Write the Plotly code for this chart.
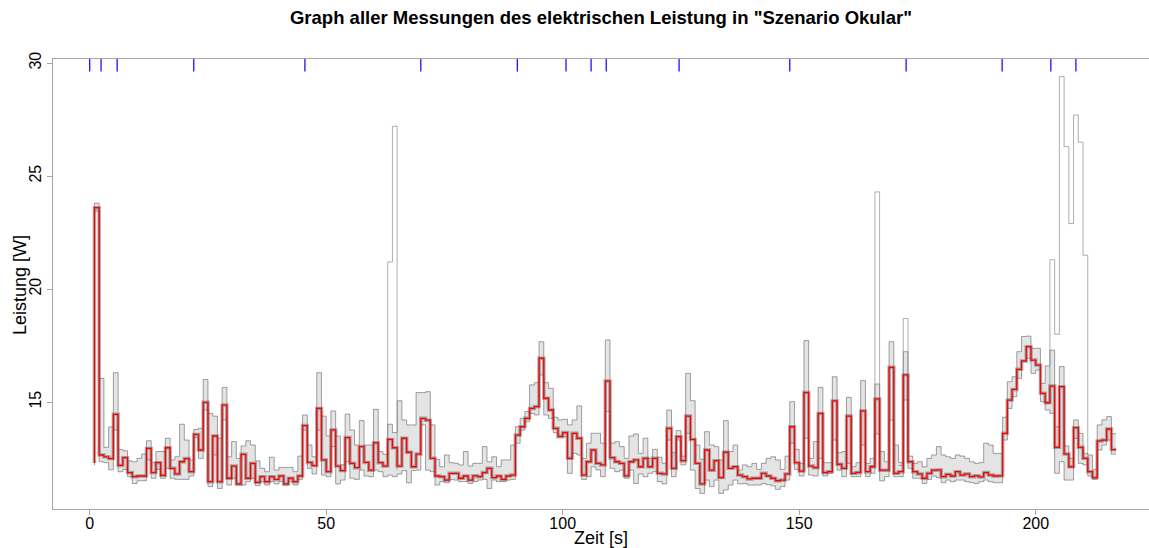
import plotly.graph_objects as go

# ---------------- data ----------------
zeit = list(range(1, 217))  # s, 1-s bins

median_w = [
    23.6, 12.66, 12.58, 12.5, 14.46, 12.2, 12.54, 11.88, 11.7, 11.73,
    11.73, 12.95, 11.88, 12.32, 11.76, 12.98, 12.07, 11.82, 12.36, 12.5,
    11.92, 13.57, 12.88, 14.99, 11.48, 13.5, 11.48, 14.87, 11.63, 12.17,
    11.38, 12.69, 11.63, 12.29, 11.45, 11.7, 11.48, 11.7, 11.58, 11.73,
    11.38, 11.63, 11.48, 11.73, 13.96, 12.33, 12.19, 14.72, 12.44, 11.92,
    13.77, 12.17, 11.97, 13.43, 12.29, 12.1, 13.03, 12.33, 11.99, 13.2,
    12.32, 12.17, 13.35, 12.98, 12.17, 13.4, 12.78, 12.14, 12.7, 14.28,
    14.2, 12.51, 11.73, 11.7, 11.55, 11.85, 11.85, 11.63, 11.73, 11.55,
    11.74, 11.7, 11.88, 12.07, 11.66, 11.73, 11.58, 11.73, 11.77, 13.54,
    13.91, 14.28, 14.72, 14.8, 16.94, 15.17, 14.65, 13.84, 13.47, 13.65,
    12.51, 13.62, 13.4, 11.77, 12.36, 12.88, 12.29, 12.22, 15.93, 12.54,
    12.36, 12.29, 11.74, 12.36, 12.44, 12.14, 12.51, 12.14, 12.51, 11.85,
    11.82, 13.84, 12.07, 13.47, 12.41, 14.38, 13.35, 12.29, 11.38, 12.88,
    11.99, 12.41, 11.66, 12.78, 12.07, 12.14, 11.77, 11.7, 11.6, 11.63,
    11.63, 11.85, 11.73, 11.63, 11.52, 11.55, 11.82, 13.91, 12.32, 11.95,
    15.42, 12.17, 12.1, 14.5, 11.88, 11.92, 15.05, 12.25, 12.07, 14.38,
    11.85, 11.89, 14.61, 11.92, 12.14, 15.14, 11.99, 11.99, 16.54, 11.85,
    11.92, 16.2, 12.36, 11.92, 11.82, 11.63, 11.85, 11.99, 12.0, 11.7,
    11.8, 11.73, 11.92, 11.77, 11.82, 11.7, 11.74, 11.69, 11.88, 11.77,
    11.73, 11.74, 13.62, 15.09, 15.56, 16.45, 16.82, 17.45, 16.86, 16.64,
    15.39, 14.97, 15.71, 13.0, 15.68, 12.7, 12.14, 13.87, 13.0, 12.51,
    11.92, 11.66, 13.28, 13.32, 13.81, 12.9,
]

maximum_w = [
    23.8, 16.05, 13.0, 13.9, 16.3, 12.9, 12.85, 12.4, 12.36, 12.51,
    12.7, 13.29, 12.32, 12.81, 12.81, 13.4, 12.44, 12.58, 14.02, 13.32,
    12.44, 13.79, 13.84, 16.0, 14.5, 14.38, 13.4, 15.65, 12.58, 13.25,
    12.51, 13.06, 13.29, 13.1, 12.4, 12.07, 11.92, 12.56, 11.99, 12.11,
    12.11, 12.11, 11.92, 12.61, 14.43, 13.1, 12.58, 16.3, 14.38, 13.5,
    14.61, 13.5, 12.22, 14.47, 13.76, 13.1, 14.18, 13.1, 13.1, 14.68,
    12.81, 12.69, 14.02, 13.65, 15.06, 14.21, 13.99, 13.99, 15.42, 15.42,
    15.46, 13.99, 12.47, 12.14, 12.66, 12.32, 12.29, 12.22, 12.81, 12.17,
    12.29, 12.29, 13.03, 12.36, 12.58, 12.14, 12.44, 12.44, 13.1, 13.91,
    14.28, 14.58, 15.76, 15.86, 17.67, 15.86, 15.61, 14.33, 14.21, 14.24,
    13.99, 14.21, 14.83, 12.51, 13.18, 13.62, 13.62, 13.18, 17.75, 13.18,
    13.25, 13.03, 12.51, 13.5, 13.59, 12.73, 13.4, 12.51, 12.91, 12.56,
    12.29, 14.65, 12.76, 13.74, 12.61, 16.27, 15.06, 13.1, 12.47, 13.69,
    13.1, 13.03, 12.44, 14.18, 12.81, 13.1, 11.99, 12.22, 12.14, 12.29,
    12.02, 12.29, 12.51, 12.58, 12.44, 12.02, 12.61, 15.02, 12.91, 12.29,
    17.72, 12.51, 13.25, 15.65, 12.32, 12.32, 16.12, 12.76, 12.81, 15.21,
    12.14, 12.32, 15.95, 12.29, 12.51, 15.8, 12.81, 12.36, 17.67, 13.1,
    12.32, 17.23, 12.61, 12.29, 12.36, 12.14, 12.51, 12.66, 13.03, 12.66,
    12.58, 12.51, 12.66, 12.61, 12.51, 12.36, 12.29, 12.32, 13.18, 13.1,
    12.73, 12.73, 14.33, 15.9, 16.12, 17.23, 17.9, 17.92, 17.38, 17.38,
    15.83, 16.6, 17.3, 13.91, 16.57, 13.06, 12.51, 14.21, 13.62, 12.73,
    12.66, 12.02, 13.99, 14.21, 14.36, 13.6,
]

minimum_w = [
    23.45, 12.36, 12.32, 12.0, 13.76, 11.92, 12.02, 11.7, 11.4, 11.52,
    11.52, 12.44, 11.63, 12.02, 11.63, 12.07, 11.63, 11.58, 11.58, 11.58,
    11.73, 13.44, 12.51, 14.65, 11.26, 12.66, 11.18, 14.21, 11.33, 11.63,
    11.33, 11.33, 11.48, 11.63, 11.3, 11.48, 11.33, 11.48, 11.38, 11.48,
    11.33, 11.48, 11.33, 11.58, 13.76, 12.07, 11.82, 13.76, 11.77, 11.7,
    13.03, 11.38, 11.55, 12.36, 11.63, 11.58, 11.99, 11.73, 11.7, 11.99,
    11.92, 11.7, 11.77, 11.7, 11.82, 11.97, 11.43, 11.97, 11.99, 13.99,
    11.99, 11.92, 11.33, 11.48, 11.43, 11.58, 11.55, 11.48, 11.48, 11.4,
    11.48, 11.55, 11.58, 11.18, 11.55, 11.48, 11.48, 11.55, 11.58, 13.18,
    13.76, 14.13, 14.5, 14.43, 16.2, 14.43, 14.28, 13.65, 13.54, 13.47,
    11.85, 12.73, 12.66, 11.58, 11.7, 12.14, 12.0, 11.7, 14.58, 12.07,
    11.92, 11.99, 11.63, 11.99, 11.4, 11.82, 11.7, 11.85, 11.92, 11.48,
    11.38, 13.32, 11.7, 13.32, 12.22, 13.62, 11.99, 11.18, 10.96, 11.55,
    11.26, 11.55, 10.96, 11.11, 11.33, 11.55, 11.38, 11.4, 11.33, 11.33,
    11.33, 11.4, 11.35, 11.29, 11.14, 11.26, 11.55, 13.18, 12.02, 11.73,
    13.4, 11.77, 11.73, 12.51, 11.73, 11.85, 13.32, 11.99, 11.7, 12.29,
    11.7, 11.7, 13.1, 11.7, 11.85, 13.59, 11.52, 11.7, 14.2, 11.7,
    11.7, 15.09, 12.07, 11.63, 11.63, 11.4, 11.58, 11.73, 11.65, 11.43,
    11.55, 11.48, 11.55, 11.55, 11.48, 11.43, 11.4, 11.48, 11.55, 11.48,
    11.43, 11.43, 13.32, 14.72, 15.24, 16.05, 16.79, 16.94, 16.27, 16.42,
    15.02, 14.65, 14.5, 11.85, 12.36, 11.55, 11.55, 13.4, 12.29, 12.22,
    11.73, 11.58, 12.88, 13.1, 13.32, 12.7,
]

# value of all runs just before the first spike (start of the record)
startwert = {"median": 12.3, "maximum": 12.45, "minimum": 12.2}

# single measurement run with outliers (only its deviating stretches)
ausreisser_zeit = [62, 63, 64, 65, None, 165, 166, 167, None,
                   171, 172, 173, None,
                   202, 203, 204, 205, 206, 207, 208, 209, 210, 211]
ausreisser_wert = [12.2, 21.2, 27.2, 12.0, None, 12.2, 24.3, 12.0, None,
                   12.2, 18.7, 12.3, None,
                   15.0, 21.3, 18.0, 29.4, 26.3, 22.9, 27.7, 26.5, 21.5, 12.4]

# event markers (blue rug at the top)
ereignis_zeit = [0, 2.4, 5.8, 22.0, 45.5, 70.0, 90.4, 100.7, 106.0, 109.2,
                 124.6, 148.0, 172.6, 192.9, 203.2, 208.5]

x_ticks = [0, 50, 100, 150, 200]
y_ticks = [15, 20, 25, 30]

# ---------------- figure ----------------
FONT = "Liberation Sans, Arial, Helvetica, sans-serif"


def stufen(werte, start):
    xs = [zeit[0]] + zeit + [zeit[-1] + 1]
    ys = [start] + werte + [werte[-1]]
    return xs, ys


fig = go.Figure()

xs, ys_min = stufen(minimum_w, startwert["minimum"])
_, ys_max = stufen(maximum_w, startwert["maximum"])
_, ys_med = stufen(median_w, startwert["median"])

fig.add_trace(go.Scatter(x=xs, y=ys_min, mode="lines", line_shape="hv",
                         line=dict(color="rgba(100,100,100,0.6)", width=1),
                         hoverinfo="skip", showlegend=False))
fig.add_trace(go.Scatter(x=xs, y=ys_max, mode="lines", line_shape="hv",
                         line=dict(color="rgba(100,100,100,0.6)", width=1),
                         fill="tonexty", fillcolor="rgba(130,130,130,0.22)",
                         hoverinfo="skip", showlegend=False))
# dense cluster of runs around the median
fig.add_trace(go.Scatter(x=xs, y=ys_med, mode="lines", line_shape="hv",
                         line=dict(color="rgba(95,95,95,0.5)", width=3.5),
                         hoverinfo="skip", showlegend=False))
fig.add_trace(go.Scatter(x=ausreisser_zeit, y=ausreisser_wert, mode="lines",
                         line_shape="hv", connectgaps=False,
                         line=dict(color="rgba(130,130,130,0.65)", width=1),
                         hoverinfo="skip", showlegend=False))
fig.add_trace(go.Scatter(x=xs, y=ys_med, mode="lines", line_shape="hv",
                         line=dict(color="#ff0000", width=1.3),
                         name="Median", showlegend=False))

for t in ereignis_zeit:
    fig.add_shape(type="line", xref="x", yref="y domain",
                  x0=t, x1=t, y0=0.972, y1=1.0,
                  line=dict(color="#0000ff", width=1.2))

axis_line = "#a6a6a6"
fig.update_layout(
    width=1149, height=548,
    margin=dict(l=53, r=0, t=59, b=39),
    paper_bgcolor="white", plot_bgcolor="white",
    font=dict(family=FONT, color="black"),
    title=dict(text='<b>Graph aller Messungen des elektrischen Leistung in "Szenario Okular"</b>',
               x=0.5, xref="paper", xanchor="center",
               y=1 - 18 / 548, yref="container", yanchor="middle",
               font=dict(size=18.5, family=FONT, color="black")),
    xaxis=dict(range=[-7.76, 223.95], tickvals=x_ticks, ticks="outside",
               ticklen=5, tickcolor=axis_line, showline=True, linecolor=axis_line,
               linewidth=1, mirror=True, showgrid=False, zeroline=False,
               ticklabelstandoff=-5,
               tickfont=dict(size=16, family=FONT, color="black")),
    yaxis=dict(range=[10.27, 30.18], tickvals=y_ticks, ticks="outside",
               ticklen=5, tickcolor=axis_line, showline=True, linecolor=axis_line,
               linewidth=1, mirror=False, showgrid=False, zeroline=False,
               tickangle=-90,
               tickfont=dict(size=16, family=FONT, color="black")),
    annotations=[
        dict(text="Zeit [s]", xref="paper", yref="paper", x=0.5, y=-(538 - 509) / 450,
             xanchor="center", yanchor="middle", showarrow=False,
             font=dict(size=18, family=FONT, color="black")),
        dict(text="Leistung [W]", xref="paper", yref="paper", x=(20 - 53) / 1096,
             y=(509 - 285) / 450, xanchor="center", yanchor="middle",
             textangle=-90, showarrow=False,
             font=dict(size=18, family=FONT, color="black")),
    ],
)

fig.write_html("out.html", config={"displayModeBar": False},
               post_script="document.body.style.margin='0px';")
